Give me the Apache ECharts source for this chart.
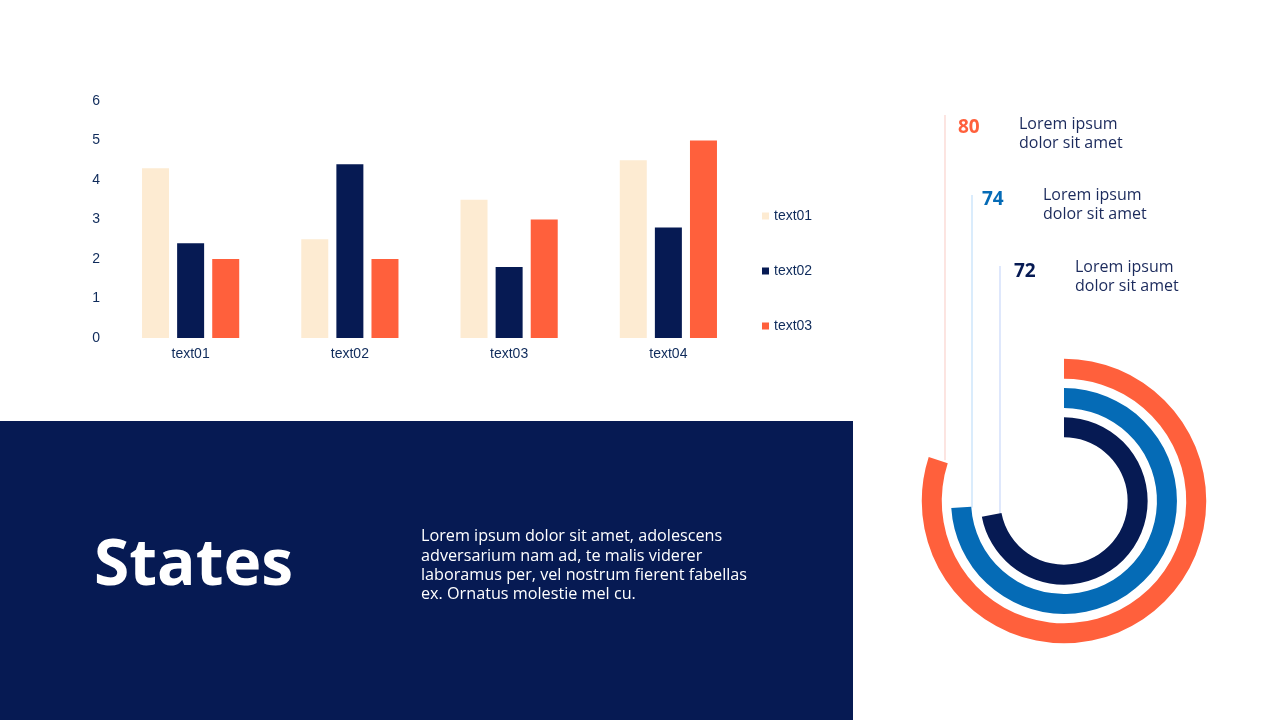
<!DOCTYPE html>
<html><head><meta charset="utf-8">
<script src="https://cdn.jsdelivr.net/npm/echarts@6/dist/echarts.min.js"></script>
<style>html,body{margin:0;padding:0;background:#fff}#c{width:1280px;height:720px}</style>
</head><body><div id="c"></div>
<script>
const categories = ['text01','text02','text03','text04'];
const seriesNames = ['text01','text02','text03'];
const s1 = [4.3, 2.5, 3.5, 4.5];
const s2 = [2.4, 4.4, 1.8, 2.8];
const s3 = [2.0, 2.0, 3.0, 5.0];
const yTicks = [0,1,2,3,4,5,6];
const ringValues = [72, 74, 80];       // inner -> outer
const ringLabels = ['c','b','a'];
const ringText = 'Lorem ipsum\ndolor sit amet';

const CREAM='#fdebd2', NAVY='#061a53', ORANGE='#ff603c', BLUE='#056bb6';
const ringColors=[NAVY,BLUE,ORANGE];
const ringLineColors=['#c9d8fa','#c2e0fa','#fad3cd'];
const center=[1064,501], r0=59, band=29.3;

const chart = echarts.init(document.getElementById('c'));
const barSeries=[s1,s2,s3].map((d,i)=>({
  name:seriesNames[i], type:'bar', data:d, barWidth:27, barGap:'30%',
  itemStyle:{color:[CREAM,NAVY,ORANGE][i]}, xAxisIndex:0, yAxisIndex:0
}));

const graphics=[
  {type:'rect',shape:{x:0,y:421,width:853,height:299},style:{fill:NAVY},z:-1},
  {type:'text',left:94,top:535,style:{text:'States',fill:'#fff',font:'bold 64px "Open Sans"'}},
  {type:'text',left:421,top:527,style:{text:'Lorem ipsum dolor sit amet, adolescens\nadversarium nam ad, te malis viderer\nlaboramus per, vel nostrum fierent fabellas\nex. Ornatus molestie mel cu.',fill:'#fff',font:'16.2px "Open Sans"',lineHeight:19.3}}
];
const lineX=[1000,972,945], lineTop=[266,195,115];
const numX=[1014,982,958], numTop=[262,190,118];
const txtX=[1075,1043,1019], txtTop=[258,186,115];
ringValues.forEach((v,i)=>{
  const rMid=r0+band*(i+0.5);
  const ang=v/100*2*Math.PI;
  const endY=center[1]-Math.cos(ang)*rMid;
  graphics.push({type:'line',shape:{x1:lineX[i],y1:lineTop[i],x2:lineX[i],y2:endY},style:{stroke:ringLineColors[i],lineWidth:1.2},z:-2});
  graphics.push({type:'text',left:numX[i],top:numTop[i],style:{text:String(v),fill:ringColors[i],font:'bold 19px "Open Sans"'}});
  graphics.push({type:'text',left:txtX[i],top:txtTop[i],style:{text:ringText,fill:'#1b2a5c',font:'16px "Open Sans"',lineHeight:19}});
});

chart.setOption({
  animation:false,
  textStyle:{fontFamily:'"Liberation Sans", Arial'},
  grid:{left:111,right:532,top:101,bottom:382,containLabel:false},
  legend:{data:seriesNames,orient:'vertical',left:757,top:204,itemWidth:7,itemHeight:7,itemGap:41,icon:'rect',
    textStyle:{color:'#0f2b5b',fontSize:14,fontFamily:'"Liberation Sans", Arial'}},
  xAxis:{type:'category',data:categories,axisLine:{show:false},axisTick:{show:false},
    axisLabel:{color:'#0f2b5b',fontSize:14,margin:9}},
  yAxis:{type:'value',min:0,max:6,interval:1,splitLine:{show:false},axisLine:{show:false},axisTick:{show:false},
    axisLabel:{color:'#0f2b5b',fontSize:14,margin:11,formatter:v=>yTicks.includes(v)?String(v):''}},
  polar:{center:center,radius:[r0,r0+band*3]},
  angleAxis:{type:'value',min:0,max:100,startAngle:90,clockwise:true,show:false},
  radiusAxis:{type:'category',data:ringLabels,show:false},
  series:[...barSeries,{
    type:'bar',coordinateSystem:'polar',barWidth:20,
    data:ringValues.map((v,i)=>({value:v,itemStyle:{color:ringColors[i]}})),
    legendHoverLink:false
  }],
  graphic:graphics
});
</script></body></html>
